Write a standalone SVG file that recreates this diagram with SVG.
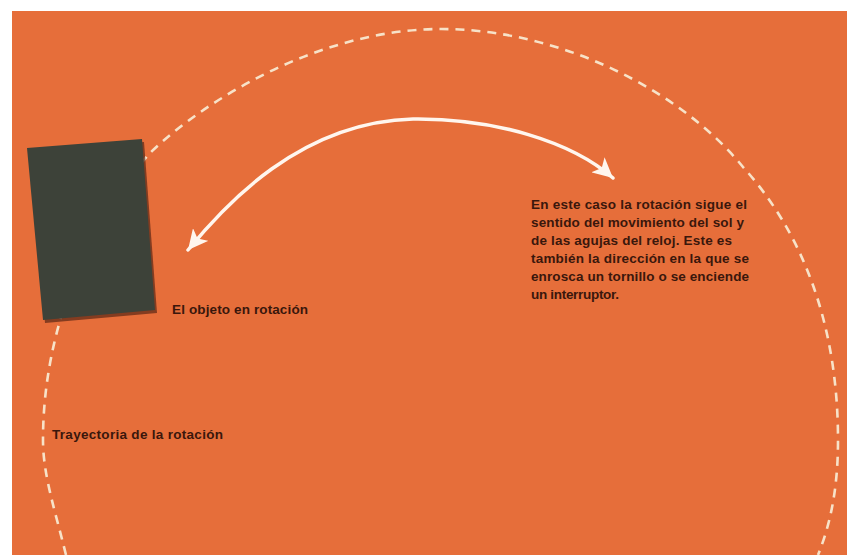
<svg xmlns="http://www.w3.org/2000/svg" width="847" height="555" viewBox="0 0 847 555">
  <style>
    .lbl { font-family: "Liberation Sans", Arial, sans-serif; font-size: 13.5px; font-weight: bold; fill: #3a170c; }
    .traj { fill: none; stroke: #f7e2c8; stroke-width: 2.6; stroke-dasharray: 9 7; }
    .arc { fill: none; stroke: #fff6ee; stroke-width: 3.5; stroke-linecap: round; }
  </style>
  <defs>
    <marker id="head" markerUnits="userSpaceOnUse" markerWidth="22" markerHeight="20" refX="20" refY="10" orient="auto-start-reverse" viewBox="0 0 22 20">
      <path d="M0,0 L20,10 L0,20 L5,10 Z" fill="#fff6ee"/>
    </marker>
  </defs>
  <rect x="0" y="0" width="847" height="555" fill="#ffffff"/>
  <rect x="12" y="11" width="835" height="544" fill="#e66e3a"/>

  <g id="trayectoria">
    <path class="traj" d="M 66,555 C 55,510 43,475 43,440 C 43,320 95,215 150,153 C 205,100 320,29 441,29 C 560,29 680,90 743,167 C 800,230 838,320 838,440 C 838,490 830,525 818,555"/>
  </g>

  <g id="objeto">
    <polygon points="29,151 144,142 157,313 45,323" fill="#5a2616" opacity="0.7"/>
    <polygon points="27,148 142,139 155,310 43,320" fill="#3d4239"/>
  </g>

  <g id="connectors">
    <path class="arc" d="M 188,250 C 225,205 300,122 413,119 C 495,118 572,142 613,178" marker-start="url(#head)" marker-end="url(#head)"/>
  </g>

  <g id="label-objeto">
    <text class="lbl" x="172" y="314" textLength="136" lengthAdjust="spacing">El objeto en rotación</text>
  </g>
  <g id="label-trayectoria">
    <text class="lbl" x="52" y="439" textLength="171" lengthAdjust="spacing">Trayectoria de la rotación</text>
  </g>
  <g id="label-explicacion">
    <text class="lbl" x="531" y="209" textLength="216" lengthAdjust="spacing">En este caso la rotación sigue el</text>
    <text class="lbl" x="531" y="227" textLength="213" lengthAdjust="spacing">sentido del movimiento del sol y</text>
    <text class="lbl" x="531" y="245" textLength="201" lengthAdjust="spacing">de las agujas del reloj. Este es</text>
    <text class="lbl" x="531" y="263" textLength="218" lengthAdjust="spacing">también la dirección en la que se</text>
    <text class="lbl" x="531" y="281" textLength="218" lengthAdjust="spacing">enrosca un tornillo o se enciende</text>
    <text class="lbl" x="531" y="299" textLength="88" lengthAdjust="spacing">un interruptor.</text>
  </g>
</svg>
